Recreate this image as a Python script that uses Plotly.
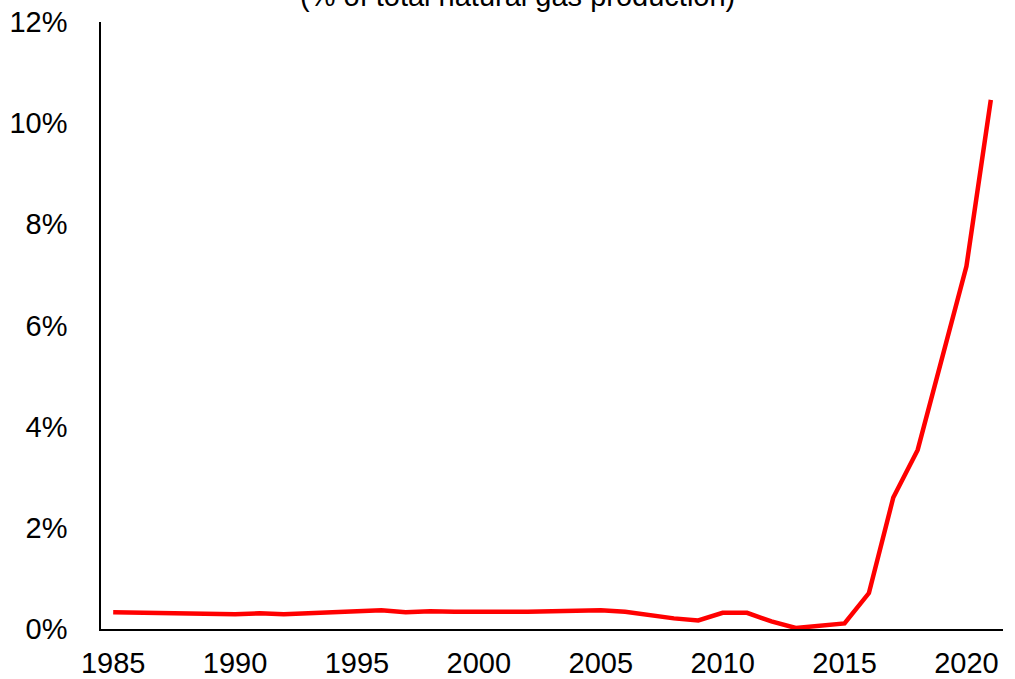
import plotly.graph_objects as go

# Share of total natural gas production, by year (%)
years = list(range(1985, 2022))
share_pct = [
    0.33, 0.32, 0.30, 0.30, 0.30, 0.29, 0.31, 0.29, 0.31, 0.33,
    0.35, 0.37, 0.33, 0.35, 0.34, 0.35, 0.34, 0.34, 0.35, 0.34,
    0.37, 0.34, 0.27, 0.21, 0.17, 0.32, 0.32, 0.15, 0.02, 0.07,
    0.11, 0.71, 2.60, 3.54, 5.35, 7.17, 10.46,
]
y_ticks = [0, 2, 4, 6, 8, 10, 12]
x_ticks = [1985, 1990, 1995, 2000, 2005, 2010, 2015, 2020]
subtitle = "(% of total natural gas production)"

font_family = "Liberation Sans, Arial, sans-serif"

fig = go.Figure(
    go.Scatter(
        x=years,
        y=share_pct,
        mode="lines",
        line=dict(color="#FF0000", width=4.5),
        hoverinfo="x+y",
    )
)

fig.update_layout(
    width=1015,
    height=679,
    margin=dict(l=101, r=12, t=22, b=50, autoexpand=False),
    paper_bgcolor="white",
    plot_bgcolor="white",
    showlegend=False,
    font=dict(family=font_family, size=29, color="#000000"),
    annotations=[
        dict(
            text=subtitle,
            xref="paper",
            yref="paper",
            x=0.462,
            y=1,
            yshift=26,
            xanchor="center",
            yanchor="middle",
            showarrow=False,
            font=dict(family=font_family, size=29, color="#000000"),
        )
    ],
)

fig.update_xaxes(
    range=[1984.5, 2021.5],
    tickvals=x_ticks,
    ticktext=[str(v) for v in x_ticks],
    showgrid=False,
    zeroline=False,
    showline=True,
    linecolor="#000000",
    linewidth=1.5,
    ticks="",
    ticklabelstandoff=7,
    automargin=False,
)

fig.update_yaxes(
    range=[0, 12],
    tickvals=y_ticks,
    ticktext=[f"{v}%" for v in y_ticks],
    showgrid=False,
    zeroline=False,
    showline=True,
    linecolor="#000000",
    linewidth=1.5,
    ticks="",
    ticklabelstandoff=26,
    automargin=False,
)

fig.write_html("out.html")
